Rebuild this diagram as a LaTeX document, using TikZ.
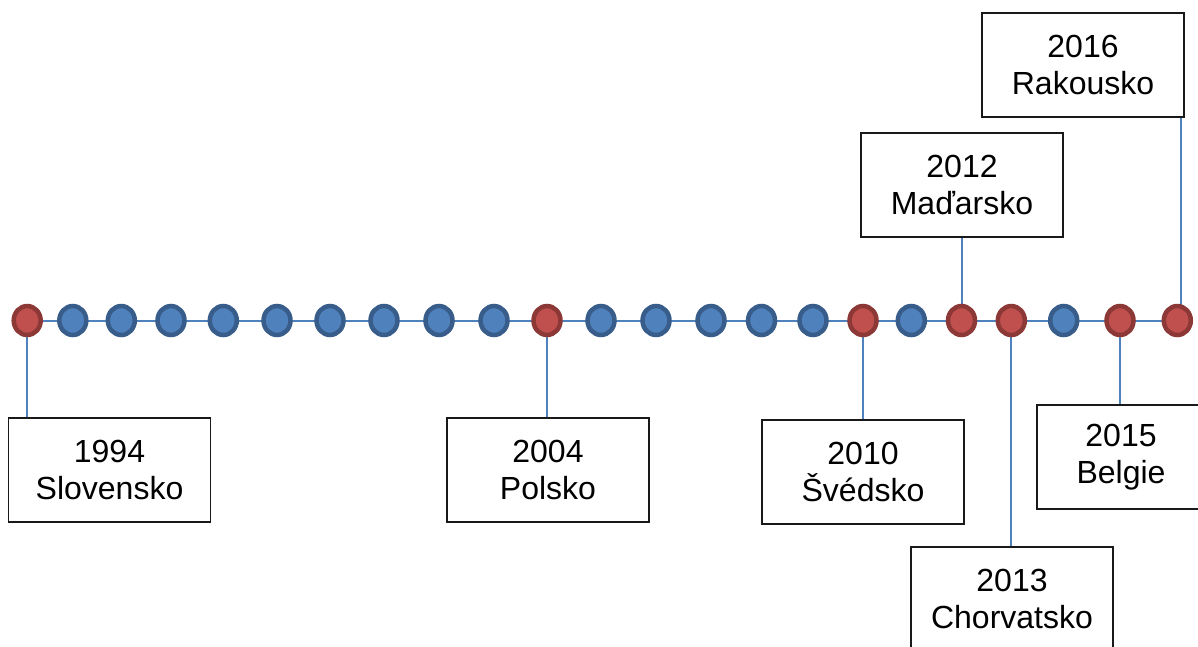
\documentclass[tikz,border=0pt]{standalone}
\usepackage{fontspec}
\setmainfont{Liberation Sans}
\usetikzlibrary{shapes.geometric,backgrounds}
\definecolor{bluefill}{HTML}{4F81BD}
\definecolor{blueedge}{HTML}{385D8A}
\definecolor{redfill}{HTML}{C0504D}
\definecolor{rededge}{HTML}{8C3836}
\tikzset{
  dotbase/.style={ellipse, minimum width=27, minimum height=29, inner sep=0pt, line width=4.5pt},
  bluedot/.style={dotbase, fill=bluefill, draw=blueedge},
  reddot/.style={dotbase, fill=redfill, draw=rededge},
  conn/.style={draw=bluefill, line width=2pt},
  yearbox/.style={draw=black!90, line width=1.3pt, fill=white, minimum width=202, minimum height=104,
    inner sep=0pt, align=center, font=\fontsize{32}{37}\selectfont}
}
\begin{document}
\begin{tikzpicture}[x=1pt,y=-1pt]
\useasboundingbox (0,0) rectangle (1198,646);
\clip (0,0) rectangle (1198,646);
% dots
\foreach \yr/\xx/\st in {1994/27.2/reddot,1995/72.8/bluedot,1996/121.3/bluedot,1997/171/bluedot,
  1998/223.3/bluedot,1999/277/bluedot,2000/330/bluedot,2001/384/bluedot,2002/439/bluedot,
  2003/494/bluedot,2004/547/reddot,2005/601/bluedot,2006/656/bluedot,2007/711/bluedot,
  2008/761.5/bluedot,2009/813/bluedot,2010/863/reddot,2011/911.3/bluedot,2012/961.5/reddot,
  2013/1011.3/reddot,2014/1063.7/bluedot,2015/1120/reddot,2016/1177.3/reddot}
  \node[\st] (c\yr) at (\xx,320.5) {};
% boxes
\node[yearbox] (b1994) at (109.5,470) {1994\\Slovensko};
\node[yearbox] (b2004) at (548,470) {2004\\Polsko};
\node[yearbox] (b2010) at (863,472) {2010\\Švédsko};
\node[yearbox] (b2012) at (962,185) {2012\\Maďarsko};
\node[yearbox] (b2013) at (1012,599) {2013\\Chorvatsko};
\node[yearbox, minimum width=168] (b2015) at (1121,457) {2015\\Belgie};
\node[yearbox] (b2016) at (1083,65) {2016\\Rakousko};
\begin{pgfonlayer}{background}
\draw[conn] (c1994.center) -- (c2016.center);
\draw[conn] (c1994.center) -- (c1994.center |- b1994.north);
\draw[conn] (c2004.center) -- (c2004.center |- b2004.north);
\draw[conn] (c2010.center) -- (c2010.center |- b2010.north);
\draw[conn] (c2012.center) -- (c2012.center |- b2012.south);
\draw[conn] (c2013.center) -- (c2013.center |- b2013.north);
\draw[conn] (c2015.center) -- (c2015.center |- b2015.north);
\draw[conn] ([xshift=3.7pt]c2016.center) -- ([xshift=3.7pt]c2016.center |- b2016.south);
\end{pgfonlayer}
\end{tikzpicture}
\end{document}
